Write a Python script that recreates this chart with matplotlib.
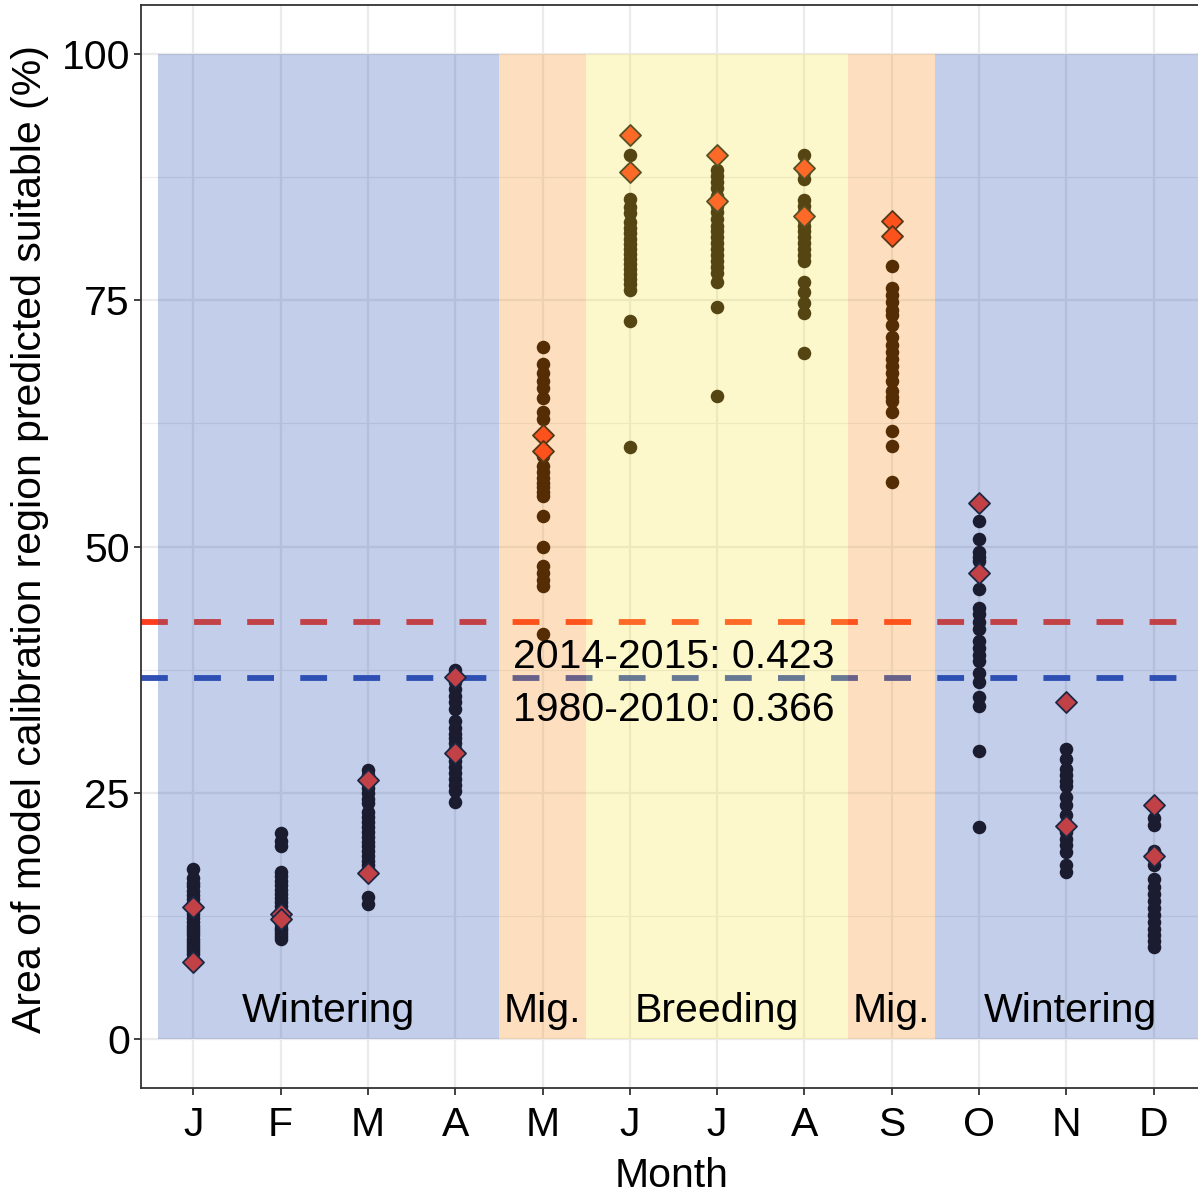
import matplotlib
matplotlib.use("Agg")
import matplotlib.pyplot as plt
from matplotlib.ticker import MultipleLocator

plt.rcParams['font.family'] = ['Liberation Sans', 'DejaVu Sans']

month_labels = ["J", "F", "M", "A", "M", "J", "J", "A", "S", "O", "N", "D"]

# 1980-2010 monthly values (% area predicted suitable)
hist_jan = [17.2, 16.3, 15.8, 15.5, 15.0, 14.6, 14.2, 13.8, 13.1, 12.7, 12.3, 11.9, 11.5, 11.2,
            10.8, 10.5, 10.1, 9.8, 9.5, 9.2, 8.9, 8.6]
hist_feb = [20.9, 20.1, 19.6, 16.9, 16.5, 16.0, 15.6, 15.1, 14.7, 14.3, 13.9, 13.5, 13.1, 12.8,
            12.4, 12.0, 11.7, 11.3, 11.0, 10.7, 10.4, 10.1]
hist_mar = [27.3, 26.8, 26.0, 25.5, 25.0, 24.4, 23.9, 23.0, 22.5, 22.0, 21.5, 21.0, 20.5, 20.0,
            19.6, 19.1, 18.6, 18.1, 17.7, 17.2, 16.9, 14.4, 13.7]
hist_apr = [37.5, 37.0, 36.2, 35.5, 34.8, 34.2, 33.5, 32.3, 31.6, 31.0, 30.5, 30.0, 29.4, 28.8,
            28.2, 27.6, 27.0, 26.4, 25.8, 25.2, 24.0]
hist_may = [70.3, 68.5, 67.6, 66.8, 66.1, 65.1, 63.7, 62.9, 59.2, 58.2, 57.6, 57.0, 56.5, 56.0,
            55.5, 55.1, 53.1, 50.0, 48.0, 47.3, 46.6, 46.0, 41.1]
hist_jun = [89.8, 85.3, 84.5, 83.9, 83.0, 82.4, 81.8, 81.2, 80.7, 80.2, 79.7, 79.2, 78.7, 78.2,
            77.7, 77.2, 76.7, 76.1, 72.9, 60.1]
hist_jul = [88.2, 87.6, 87.0, 86.4, 85.6, 84.6, 84.0, 83.3, 82.6, 82.0, 81.4, 80.8, 80.2, 79.6,
            79.0, 78.4, 77.8, 76.9, 74.3, 65.3]
hist_aug = [89.8, 88.0, 87.3, 85.2, 84.6, 84.0, 83.2, 82.6, 82.0, 81.4, 80.8, 80.2, 79.6, 79.0,
            76.9, 75.9, 74.7, 73.7, 69.7]
hist_sep = [78.5, 76.3, 75.5, 74.8, 74.0, 73.5, 72.5, 71.3, 70.5, 69.8, 69.0, 68.3, 67.6, 66.8,
            65.8, 65.2, 64.8, 63.7, 61.7, 60.2, 56.6]
hist_oct = [52.6, 50.8, 49.4, 48.9, 48.5, 45.7, 43.8, 43.1, 42.3, 41.6, 40.4, 39.7, 39.0, 38.4,
            37.2, 36.2, 34.7, 33.8, 29.2, 21.5]
hist_nov = [29.4, 28.4, 27.4, 26.8, 26.2, 25.7, 24.6, 23.7, 22.7, 21.0, 20.3, 19.7, 19.0, 17.7, 16.9]
hist_dec = [22.4, 21.7, 19.1, 17.6, 16.2, 15.4, 14.7, 14.0, 13.3, 12.6, 11.9, 11.2, 10.5, 9.9, 9.3]

# 2014 and 2015 monthly values
recent_2014 = [13.4, 12.7, 26.3, 36.7, 61.3, 91.8, 89.8, 88.4, 83.1, 54.4, 34.2, 23.7]
recent_2015 = [7.8, 12.2, 16.8, 29.0, 59.7, 88.0, 85.1, 83.6, 81.5, 47.3, 21.6, 18.6]

# mean proportion of area
mean_recent = 42.3
mean_hist = 36.6
label_recent = "2014-2015: 0.423"
label_hist = "1980-2010: 0.366"

# seasons
season_start = [0.6, 4.5, 5.5, 8.5, 9.5]
season_end = [4.5, 5.5, 8.5, 9.5, 12.6]
season_names = ["Wintering", "Mig.", "Breeding", "Mig.", "Wintering"]
season_colors = ["#214db2", "#f88c16", "#f8e643", "#f88c16", "#214db2"]

hist_all = [hist_jan, hist_feb, hist_mar, hist_apr, hist_may, hist_jun,
            hist_jul, hist_aug, hist_sep, hist_oct, hist_nov, hist_dec]

FS = 29.5
W, H = 1198, 1195
fig = plt.figure(figsize=(W / 100, H / 100), dpi=100)
ax_left, ax_right, ax_top, ax_bottom = 141, 1206, 5, 1088
ax = fig.add_axes([ax_left / W, 1 - ax_bottom / H, (ax_right - ax_left) / W, (ax_bottom - ax_top) / H])

ax.set_xlim(0.4, 12.6)
ax.set_ylim(-5, 105)

ax.yaxis.set_major_locator(MultipleLocator(25))
ax.yaxis.set_minor_locator(MultipleLocator(12.5))
ax.set_xticks(range(1, 13))
ax.set_xticklabels(month_labels)
ax.grid(which='major', color='#ebebeb', lw=1.6, zorder=0)
ax.grid(which='minor', axis='y', color='#ebebeb', lw=0.8, zorder=0)
ax.set_axisbelow(True)

# reference lines
ax.axhline(mean_recent, color='#ff3d1f', lw=4.2, dashes=(4.6, 4.5), zorder=2)
ax.axhline(mean_hist, color='#3250b4', lw=4.2, dashes=(4.6, 4.5), zorder=2)

# points
for m, vals in enumerate(hist_all, start=1):
    ax.scatter([m] * len(vals), vals, s=95, color='#190a00', lw=0, zorder=3)
months = list(range(1, 13))
ax.scatter(months, recent_2014, marker='D', s=115, facecolor='#ff3d1f', edgecolor='#1a1a1a', lw=1.3, zorder=4)
ax.scatter(months, recent_2015, marker='D', s=115, facecolor='#ff3d1f', edgecolor='#1a1a1a', lw=1.3, zorder=4)

# season rectangles over everything (translucent)
for s0, s1, c in zip(season_start, season_end, season_colors):
    ax.fill_between([s0, s1], 0, 100, color=c, alpha=0.27, lw=0, zorder=5)

for s0, s1, name in zip(season_start, season_end, season_names):
    ax.text((s0 + s1) / 2, 1.7, name, ha='center', va='baseline', fontsize=FS, color='black', zorder=6)

ax.text(6.5, 37.7, label_recent, ha='center', va='baseline', fontsize=FS, color='black', zorder=6)
ax.text(6.5, 32.3, label_hist, ha='center', va='baseline', fontsize=FS, color='black', zorder=6)

for side in ['left', 'top', 'bottom']:
    ax.spines[side].set_color('#333333')
    ax.spines[side].set_linewidth(1.3)
ax.spines['right'].set_visible(False)
ax.tick_params(which='major', length=5, width=1.3, color='#333333', labelsize=FS, labelcolor='black')
ax.tick_params(axis='x', pad=8)
ax.tick_params(axis='y', pad=3)
ax.tick_params(which='minor', length=0)

fig.text(30 / W, 1 - 539 / H, "Area of model calibration region predicted suitable (%)",
         rotation=90, ha='center', va='center', fontsize=FS)
fig.text(672 / W, 1 - 1176 / H, "Month", ha='center', va='center', fontsize=FS)

fig.savefig("out.png", dpi=100)
